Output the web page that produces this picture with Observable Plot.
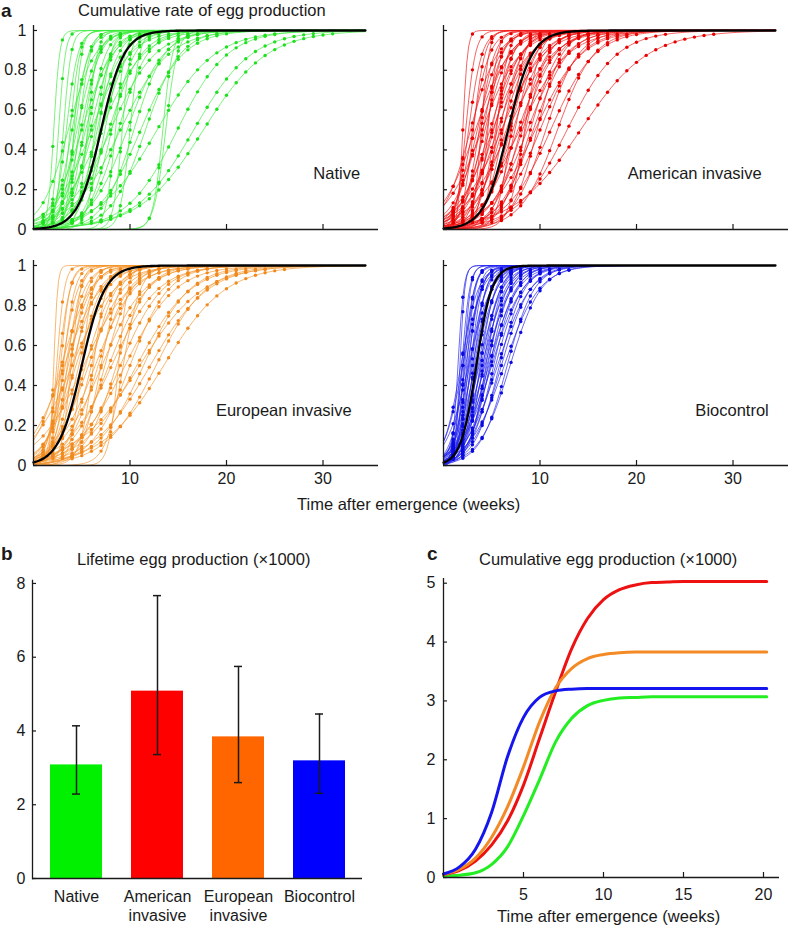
<!DOCTYPE html>
<html><head><meta charset="utf-8">
<script src="https://cdn.jsdelivr.net/npm/d3@7"></script>
<script src="https://cdn.jsdelivr.net/npm/@observablehq/plot@0.6"></script>
<style>
body{margin:0;background:#fff;}
#root{position:relative;width:788px;height:927px;overflow:hidden;font-family:"Liberation Sans",Arial,Helvetica,sans-serif;}
#root svg{position:absolute;}
</style></head><body><div id="root"></div>
<script>
// ---------- DATA ----------
const groups = ["Native", "American invasive", "European invasive", "Biocontrol"];
const groupTickLabels = ["Native", "American\ninvasive", "European\ninvasive", "Biocontrol"];

// Panel a: fitted individual curves (logistic midpoint in weeks, spread in weeks)
const nativeMid    = [2.1,2.6,3.1,3.4,3.8,4.0,4.3,4.5,4.7,4.9,5.2,5.4,5.7,5.9,6.2,6.4,6.6,7.1,7.4,7.8,8.1,8.5,8.8,9.2,9.7,10.0,10.4,11.1,11.6,12.8,13.4,13.7,14.9,16.6,17.6,3.6,5.0,6.0,7.0,4.2,5.6,6.8,9.0,8.0];
const nativeSpread = [0.3,0.35,0.4,0.6,0.5,0.9,0.7,1.1,0.6,1.0,0.8,1.3,0.9,1.2,1.5,0.8,1.1,1.4,1.0,1.7,1.2,0.5,1.5,0.45,1.9,0.5,1.6,2.2,1.8,3.0,0.5,0.6,2.6,3.0,3.3,1.4,1.6,2.0,2.2,0.4,0.5,0.6,2.5,2.3];

const americanMid    = [2.0,2.3,2.6,3.0,3.1,3.5,3.7,3.8,4.1,4.3,4.5,4.8,5.0,5.2,5.4,5.6,5.8,6.1,6.2,6.5,6.9,7.2,7.4,7.7,8.0,8.2,8.5,8.7,9.0,9.3,9.7,10.0,10.6,11.1,11.8,12.8,14.2,2.8,3.3,4.0,4.6,5.5,6.0,7.0,8.4,9.5,3.9,5.1,6.7,7.9];
const americanSpread = [0.25,0.5,0.7,0.9,0.6,1.2,0.8,1.5,1.0,1.3,0.8,1.6,1.1,1.4,0.9,1.7,1.2,1.5,1.0,1.8,1.3,1.6,1.1,1.9,1.4,1.7,1.2,2.0,1.5,1.8,1.3,2.1,1.7,2.3,1.9,2.6,3.5,1.4,1.8,2.0,0.5,0.6,2.2,0.7,0.8,2.4,0.4,1.9,2.3,2.5];

const europeanMid    = [2.1,2.4,2.6,2.8,3.0,3.1,3.3,3.5,3.6,3.8,4.0,4.2,4.4,4.7,5.4,5.7,6.0,6.4,6.7,7.1,7.4,7.8,8.1,8.6,9.0,9.5,10.0,10.7,11.4,12.1,12.7,4.0,3.2,5.0,6.2,8.8,9.3,7.0,5.2,3.9,11.0,13.5,2.9];
const europeanSpread = [0.2,0.4,0.6,0.5,0.8,0.6,1.0,0.7,1.2,0.9,1.4,1.0,1.6,1.2,1.5,1.8,1.3,2.0,1.6,2.2,1.4,2.0,2.4,1.6,2.2,2.6,2.0,2.8,2.4,3.0,2.6,2.2,1.9,0.6,0.7,0.5,0.9,1.0,2.4,0.5,3.3,3.2,1.5];

const biocontrolMid    = [1.5,1.7,1.9,2.0,2.1,2.2,2.3,2.4,2.5,2.6,2.7,2.8,2.9,3.0,3.1,3.2,3.3,3.5,3.6,3.7,3.8,3.9,4.0,4.1,4.2,4.3,4.4,4.5,4.6,4.7,4.8,4.9,5.0,5.2,5.4,5.6,5.8,6.0,6.3,6.6,6.9,2.0,2.6,1.8];
const biocontrolSpread = [0.3,0.25,0.4,0.6,0.35,0.5,0.8,0.45,0.7,0.55,0.9,0.6,0.75,1.0,0.65,0.85,1.1,0.7,0.95,1.2,0.8,1.0,1.3,0.9,1.1,1.4,0.85,1.2,1.0,1.5,1.1,1.3,1.6,1.2,1.4,1.7,1.3,1.5,1.8,1.4,1.6,1.0,1.2,0.9];

// Mean (black) curves per group
const meanMid    = [7.0, 6.7, 5.0, 3.4];
const meanSpread = [1.2, 1.25, 1.2, 0.8];

// Panel b: lifetime egg production (x1000)
const lifetimeMean = [3.08, 5.08, 3.84, 3.19];
const lifetimeLow  = [2.29, 3.36, 2.60, 2.31];
const lifetimeHigh = [4.14, 7.67, 5.75, 4.46];

// Panel c: cumulative egg production (x1000) by week
const weeksC = [0,1,2,3,4,5,6,7,8,9,10,11,12,13,14,15,16,17,18,19,20,20.2];
const cumNative     = [0.03,0.04,0.08,0.22,0.52,1.05,1.66,2.3,2.7,2.92,3.01,3.05,3.06,3.07,3.07,3.07,3.07,3.07,3.07,3.07,3.07,3.07];
const cumAmerican   = [0.05,0.12,0.28,0.55,0.96,1.57,2.36,3.15,3.88,4.4,4.72,4.89,4.97,5.01,5.02,5.03,5.03,5.03,5.03,5.03,5.03,5.03];
const cumEuropean   = [0.05,0.14,0.33,0.68,1.2,1.88,2.64,3.22,3.55,3.72,3.79,3.82,3.83,3.83,3.83,3.83,3.83,3.83,3.83,3.83,3.83,3.83];
const cumBiocontrol = [0.06,0.18,0.48,1.1,2.05,2.72,3.06,3.17,3.2,3.21,3.21,3.21,3.21,3.21,3.21,3.21,3.21,3.21,3.21,3.21,3.21,3.21];

// Tick values
const aYTicks = [0, 0.2, 0.4, 0.6, 0.8, 1];
const aXTicks = [10, 20, 30];
const bYTicks = [0, 2, 4, 6, 8];
const cYTicks = [0, 1, 2, 3, 4, 5];
const cXTicks = [5, 10, 15, 20];

// ---------- RENDER ----------
const root = document.getElementById("root");
const FONT = '"Liberation Sans", Arial, Helvetica, sans-serif';
const INK = "#1a1a1a";
const baseStyle = {fontFamily: FONT, fontSize: "16px", color: INK, background: "transparent", overflow: "visible"};

function place(svg, left, top) {
  svg.style.left = left + "px";
  svg.style.top = top + "px";
  root.appendChild(svg);
}

const logistic = (t, m, s) => 1 / (1 + Math.exp(-(t - m) / s));
const tEnd = 34.4;
const tGrid = d3.range(0, tEnd + 0.001, 0.2);

const panelA = [
  {mid: nativeMid, spread: nativeSpread, line: "#3cec3c", dot: "#1ee01e", left: 0, top: 0, W: 394, H: 250, ml: 33, mr: 16, mt: 25, mb: 21, yLab: true, xLab: false, lx: 29.0, ly: 0.28},
  {mid: americanMid, spread: americanSpread, line: "#f01818", dot: "#e80000", left: 394, top: 0, W: 394, H: 250, ml: 49, mr: 0, mt: 25, mb: 21, yLab: false, xLab: false, lx: 19.1, ly: 0.28},
  {mid: europeanMid, spread: europeanSpread, line: "#f5962e", dot: "#f08a1e", left: 0, top: 250, W: 394, H: 270, ml: 33, mr: 16, mt: 10, mb: 55, yLab: true, xLab: true, lx: 18.9, ly: 0.275},
  {mid: biocontrolMid, spread: biocontrolSpread, line: "#2424ee", dot: "#0a0ae0", left: 394, top: 250, W: 394, H: 270, ml: 49, mr: 0, mt: 10, mb: 55, yLab: false, xLab: true, lx: 26.1, ly: 0.275}
];

panelA.forEach((p, g) => {
  const lines = [];
  const dots = [];
  p.mid.forEach((m, i) => {
    const s = p.spread[i];
    tGrid.forEach(t => lines.push({id: i, t, v: logistic(t, m, s)}));
    for (let w = 1; w <= 34; w++) {
      const v = logistic(w, m, s);
      if (v > 0.03 && v < 0.985) dots.push({t: w, v});
    }
  });
  const meanLine = tGrid.map(t => ({t, v: logistic(t, meanMid[g], meanSpread[g])}));
  const frameW = p.W - p.ml - p.mr, frameH = p.H - p.mt - p.mb;
  const marks = [
    Plot.line(lines, {x: "t", y: "v", z: "id", stroke: p.line, strokeWidth: 0.75, strokeOpacity: 0.9}),
    Plot.dot(dots, {x: "t", y: "v", r: 1.7, fill: p.dot, stroke: "none"}),
    Plot.line(meanLine, {x: "t", y: "v", stroke: "#000", strokeWidth: 2.3}),
    Plot.ruleX([0], {stroke: INK, strokeWidth: 1.3}),
    Plot.ruleY([0], {stroke: INK, strokeWidth: 1.3}),
    Plot.tickY(aYTicks, {y: d => d, insetRight: frameW - 4, stroke: INK, strokeWidth: 1.2}),
    Plot.tickX(aXTicks, {x: d => d, insetTop: frameH - 5, stroke: INK, strokeWidth: 1.2}),
    Plot.text([{x: p.lx, y: p.ly, t: groups[g]}], {x: "x", y: "y", text: "t", textAnchor: "start", fontSize: 16.5, fill: INK})
  ];
  if (p.yLab) marks.push(Plot.axisY({ticks: aYTicks, tickSize: 0, tickPadding: 7, tickFormat: d => String(d), label: null, fontSize: 16}));
  if (p.xLab) marks.push(Plot.axisX({ticks: aXTicks, tickSize: 0, tickPadding: 7, tickFormat: d => String(d), label: null, fontSize: 16}));
  const svg = Plot.plot({
    width: p.W, height: p.H,
    marginLeft: p.ml, marginRight: p.mr, marginTop: p.mt, marginBottom: p.mb,
    x: {domain: [0, 35.75], axis: null},
    y: {domain: [0, 1.025], axis: null},
    style: baseStyle,
    marks
  });
  place(svg, p.left, p.top);
});

// Panel b
const barColors = ["#00f000", "#ff0000", "#ff6600", "#0000ff"];
const barData = groups.map((g, i) => ({g, mean: lifetimeMean[i], lo: lifetimeLow[i], hi: lifetimeHigh[i], c: barColors[i]}));
{
  const W = 394, H = 407, ml = 32, mr = 32, mt = 60, mb = 49;
  const frameW = W - ml - mr;
  const svgB = Plot.plot({
    width: W, height: H, marginLeft: ml, marginRight: mr, marginTop: mt, marginBottom: mb,
    x: {domain: groups, paddingInner: 0.36, paddingOuter: 0.2, axis: null},
    y: {domain: [0, 8.08], axis: null},
    style: baseStyle,
    marks: [
      Plot.barY(barData, {x: "g", y: "mean", fill: "c"}),
      Plot.ruleX(barData, {x: "g", y1: "lo", y2: "hi", stroke: INK, strokeWidth: 1.5}),
      Plot.tickY(barData, {x: "g", y: "lo", stroke: INK, strokeWidth: 1.5, insetLeft: 22, insetRight: 22}),
      Plot.tickY(barData, {x: "g", y: "hi", stroke: INK, strokeWidth: 1.5, insetLeft: 22, insetRight: 22}),
      Plot.frame({anchor: "left", stroke: INK, strokeWidth: 1.3}),
      Plot.ruleY([0], {stroke: INK, strokeWidth: 1.3}),
      Plot.tickY(bYTicks, {y: d => d, insetRight: frameW - 4, stroke: INK, strokeWidth: 1.2}),
      Plot.axisY({ticks: bYTicks, tickSize: 0, tickPadding: 7, label: null, fontSize: 16}),
      Plot.axisX({tickSize: 0, tickPadding: 10, label: null, fontSize: 16, lineHeight: 1.2,
        tickFormat: d => groupTickLabels[groups.indexOf(d)]})
    ]
  });
  place(svgB, 0, 520);
}

// Panel c
const seriesC = [
  {name: "Native", vals: cumNative, c: "#22ee22"},
  {name: "American invasive", vals: cumAmerican, c: "#ee1111"},
  {name: "European invasive", vals: cumEuropean, c: "#f38a25"},
  {name: "Biocontrol", vals: cumBiocontrol, c: "#1515ee"}
];
const cData = seriesC.flatMap(s => weeksC.map((w, i) => ({g: s.name, w, v: s.vals[i], c: s.c})));
{
  const W = 394, H = 407, ml = 49, mr = 9, mt = 58, mb = 50;
  const frameW = W - ml - mr, frameH = H - mt - mb;
  const svgC = Plot.plot({
    width: W, height: H, marginLeft: ml, marginRight: mr, marginTop: mt, marginBottom: mb,
    x: {domain: [0, 21], axis: null},
    y: {domain: [0, 5.08], axis: null},
    style: baseStyle,
    marks: [
      Plot.line(cData, {x: "w", y: "v", z: "g", stroke: "c", strokeWidth: 3, curve: "monotone-x"}),
      Plot.ruleX([0], {stroke: INK, strokeWidth: 1.3}),
      Plot.ruleY([0], {stroke: INK, strokeWidth: 1.3}),
      Plot.tickY(cYTicks, {y: d => d, insetRight: frameW - 4, stroke: INK, strokeWidth: 1.2}),
      Plot.tickX(cXTicks, {x: d => d, insetTop: frameH - 5, stroke: INK, strokeWidth: 1.2}),
      Plot.axisY({ticks: cYTicks, tickSize: 0, tickPadding: 8, tickFormat: d => String(d), label: null, fontSize: 16}),
      Plot.axisX({ticks: cXTicks, tickSize: 0, tickPadding: 11, tickFormat: d => String(d), label: null, fontSize: 16})
    ]
  });
  place(svgC, 394, 520);
}

// Titles and panel letters
const over = d3.create("svg").attr("width", 788).attr("height", 927)
  .style("left", "0px").style("top", "0px").style("pointer-events", "none")
  .attr("font-family", FONT).attr("fill", INK);
const titles = [
  {t: "a", x: 1, y: 17, b: true},
  {t: "Cumulative rate of egg production", x: 78, y: 16},
  {t: "Time after emergence (weeks)", x: 297, y: 510},
  {t: "b", x: 1, y: 560, b: true},
  {t: "Lifetime egg production (×1000)", x: 77, y: 565},
  {t: "c", x: 427, y: 560, b: true},
  {t: "Cumulative egg production (×1000)", x: 479, y: 565},
  {t: "Time after emergence (weeks)", x: 497, y: 922}
];
titles.forEach(d => {
  over.append("text").attr("x", d.x).attr("y", d.y)
    .attr("font-size", d.b ? 19 : 16.5).attr("font-weight", d.b ? "bold" : null)
    .text(d.t);
});
root.appendChild(over.node());
</script>
</body></html>
